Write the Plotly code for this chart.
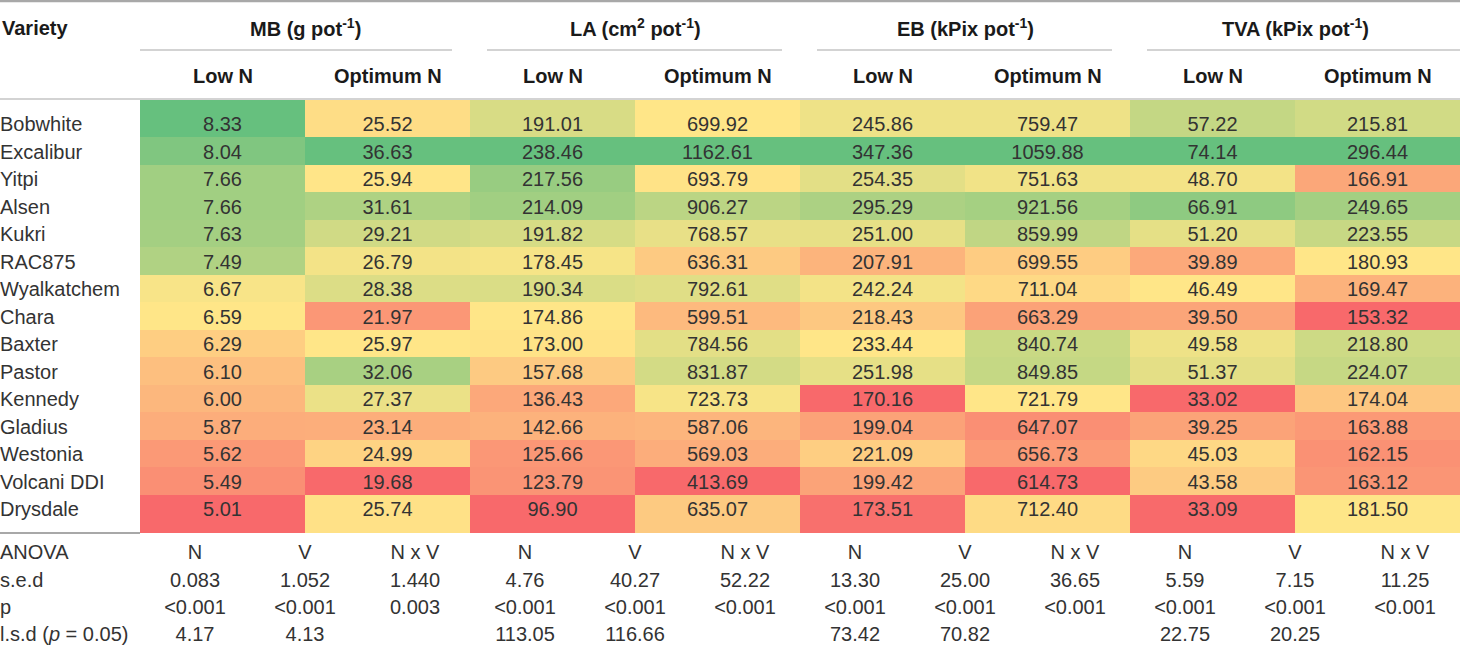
import plotly.graph_objects as go

# ---- data ----
varieties = ["Bobwhite", "Excalibur", "Yitpi", "Alsen", "Kukri", "RAC875", "Wyalkatchem",
             "Chara", "Baxter", "Pastor", "Kennedy", "Gladius", "Westonia", "Volcani DDI", "Drysdale"]

mb_low = [8.33, 8.04, 7.66, 7.66, 7.63, 7.49, 6.67, 6.59, 6.29, 6.10, 6.00, 5.87, 5.62, 5.49, 5.01]
mb_opt = [25.52, 36.63, 25.94, 31.61, 29.21, 26.79, 28.38, 21.97, 25.97, 32.06, 27.37, 23.14, 24.99, 19.68, 25.74]
la_low = [191.01, 238.46, 217.56, 214.09, 191.82, 178.45, 190.34, 174.86, 173.00, 157.68, 136.43, 142.66, 125.66, 123.79, 96.90]
la_opt = [699.92, 1162.61, 693.79, 906.27, 768.57, 636.31, 792.61, 599.51, 784.56, 831.87, 723.73, 587.06, 569.03, 413.69, 635.07]
eb_low = [245.86, 347.36, 254.35, 295.29, 251.00, 207.91, 242.24, 218.43, 233.44, 251.98, 170.16, 199.04, 221.09, 199.42, 173.51]
eb_opt = [759.47, 1059.88, 751.63, 921.56, 859.99, 699.55, 711.04, 663.29, 840.74, 849.85, 721.79, 647.07, 656.73, 614.73, 712.40]
tva_low = [57.22, 74.14, 48.70, 66.91, 51.20, 39.89, 46.49, 39.50, 49.58, 51.37, 33.02, 39.25, 45.03, 43.58, 33.09]
tva_opt = [215.81, 296.44, 166.91, 249.65, 223.55, 180.93, 169.47, 153.32, 218.80, 224.07, 174.04, 163.88, 162.15, 163.12, 181.50]

groups = ["MB (g pot<sup>-1</sup>)", "LA (cm<sup>2</sup> pot<sup>-1</sup>)",
          "EB (kPix pot<sup>-1</sup>)", "TVA (kPix pot<sup>-1</sup>)"]
sub_headers = ["Low N", "Optimum N"]

anova_labels = ["ANOVA", "s.e.d", "p", "l.s.d (<i>p</i> = 0.05)"]
anova_terms = ["N", "V", "N x V"] * 4
sed = ["0.083", "1.052", "1.440", "4.76", "40.27", "52.22", "13.30", "25.00", "36.65", "5.59", "7.15", "11.25"]
p_vals = ["&lt;0.001", "&lt;0.001", "0.003", "&lt;0.001", "&lt;0.001", "&lt;0.001",
          "&lt;0.001", "&lt;0.001", "&lt;0.001", "&lt;0.001", "&lt;0.001", "&lt;0.001"]
lsd = ["4.17", "4.13", "", "113.05", "116.66", "", "73.42", "70.82", "", "22.75", "20.25", ""]

columns = [mb_low, mb_opt, la_low, la_opt, eb_low, eb_opt, tva_low, tva_opt]

# ---- layout geometry (pixels) ----
W, H = 1460, 647
LEFT = 140
COL_W = (W - LEFT) / 8
ROW_H = 27.5
FONT = "Liberation Sans, Arial, sans-serif"
FS = 20
TXT = "#333333"
LINE = "#a8a8a8"


def scale01(vals):
    # Excel style 3-colour scale: min -> 0, median -> 0.5, max -> 1
    s = sorted(vals)
    lo, med, hi = s[0], s[len(s) // 2], s[-1]
    out = []
    for v in vals:
        if v <= med:
            out.append(0.5 * (v - lo) / (med - lo) if med > lo else 0.5)
        else:
            out.append(0.5 + 0.5 * (v - med) / (hi - med))
    return out


scaled = [scale01(c) for c in columns]
n = len(varieties)
z = [[scaled[j][i] for j in range(8)] for i in range(n)]

x_edges = [LEFT + COL_W * k for k in range(9)]
y_edges = [100] + [137 + ROW_H * k for k in range(n - 1)] + [533]
col_centers = [LEFT + COL_W * (k + 0.5) for k in range(8)]
row_text_y = [126 + ROW_H * i for i in range(n)]

fig = go.Figure()
fig.add_trace(go.Heatmap(
    x=x_edges, y=y_edges, z=z, zmin=0, zmax=1,
    colorscale=[[0, "#F8696B"], [0.5, "#FFE688"], [1, "#66C07E"]],
    showscale=False, hoverinfo="skip"))

# cell values
cx, cy, ct = [], [], []
for j, col in enumerate(columns):
    for i, v in enumerate(col):
        cx.append(col_centers[j])
        cy.append(row_text_y[i])
        ct.append(f"{v:.2f}")
fig.add_trace(go.Scatter(x=cx, y=cy, text=ct, mode="text", textposition="middle center",
                         textfont=dict(family=FONT, size=FS, color=TXT), hoverinfo="skip"))

# variety names
fig.add_trace(go.Scatter(x=[0] * n, y=row_text_y, text=varieties, mode="text",
                         textposition="middle right", cliponaxis=False,
                         textfont=dict(family=FONT, size=FS, color=TXT), hoverinfo="skip"))

# ANOVA block
anova_y = [554, 582, 609, 636]
sub_x = [LEFT + 55 + 110 * k for k in range(12)]
fig.add_trace(go.Scatter(x=[0] * 4, y=anova_y, text=anova_labels, mode="text",
                         textposition="middle right", cliponaxis=False,
                         textfont=dict(family=FONT, size=FS, color=TXT), hoverinfo="skip"))
ax_, ay_, at_ = [], [], []
for r, row in enumerate([anova_terms, sed, p_vals, lsd]):
    for k, t in enumerate(row):
        if t:
            ax_.append(sub_x[k])
            ay_.append(anova_y[r])
            at_.append(t)
fig.add_trace(go.Scatter(x=ax_, y=ay_, text=at_, mode="text", textposition="middle center",
                         cliponaxis=False,
                         textfont=dict(family=FONT, size=FS, color=TXT), hoverinfo="skip"))

# headers
hdr_font = dict(family=FONT, size=FS, color="#1a1a1a")
fig.add_annotation(x=0, y=28, text="<b>Variety</b>", xanchor="left", showarrow=False, font=hdr_font)
for g, name in enumerate(groups):
    fig.add_annotation(x=LEFT + 2 * COL_W * (g + 0.5), y=27, text=f"<b>{name}</b>",
                       showarrow=False, font=hdr_font)
    x0 = LEFT + 2 * COL_W * g + (17 if g > 0 else 0)
    x1 = LEFT + 2 * COL_W * (g + 1) - (18 if g < 3 else 0)
    fig.add_shape(type="line", x0=x0, x1=x1, y0=50, y1=50, line=dict(color=LINE, width=1.2))
for j in range(8):
    fig.add_annotation(x=col_centers[j], y=76, text=f"<b>{sub_headers[j % 2]}</b>",
                       showarrow=False, font=hdr_font)

fig.add_shape(type="line", x0=0, x1=W, y0=1, y1=1, line=dict(color=LINE, width=2.5))
fig.add_shape(type="line", x0=0, x1=W, y0=99, y1=99, line=dict(color=LINE, width=1.2))
fig.add_shape(type="line", x0=0, x1=LEFT, y0=533, y1=533, line=dict(color=LINE, width=2))

fig.update_xaxes(range=[0, W], visible=False, fixedrange=True)
fig.update_yaxes(range=[H, 0], visible=False, fixedrange=True)
fig.update_layout(width=W, height=H, margin=dict(l=0, r=0, t=0, b=0),
                  plot_bgcolor="white", paper_bgcolor="white", showlegend=False)

# the page body has a default 8px margin; drop it so the table sits at the window corner
fig.write_html("out.html", config={"displayModeBar": False},
               post_script="document.body.style.margin='0';document.body.style.overflow='hidden';")
